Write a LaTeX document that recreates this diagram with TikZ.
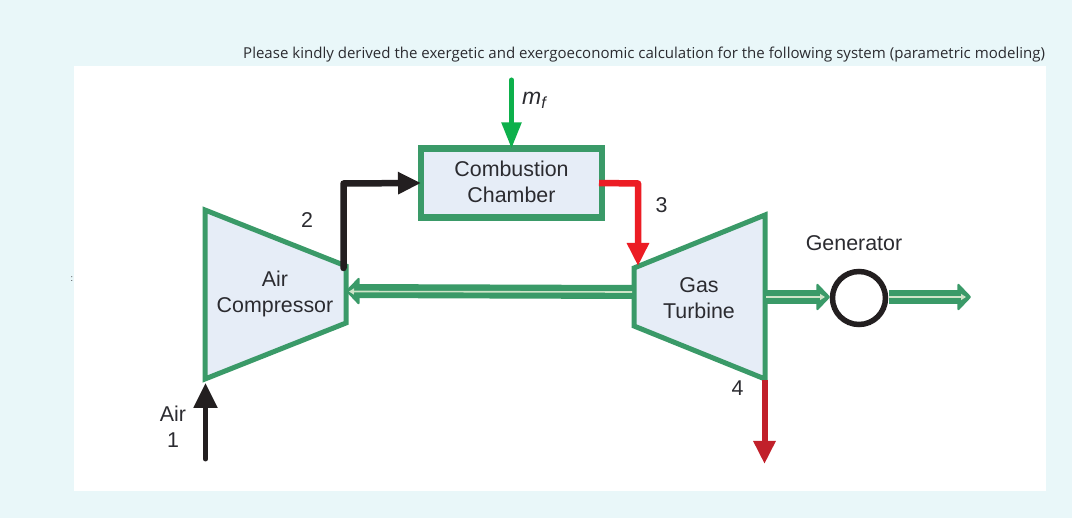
\documentclass[tikz,border=0pt]{standalone}
\usepackage{fontspec}
\setmainfont{Liberation Sans}
\newfontfamily\topfont{Open Sans}
\usetikzlibrary{arrows.meta}
\definecolor{bgc}{HTML}{E9F7F9}
\definecolor{grn}{HTML}{3A9A68}
\definecolor{fillc}{HTML}{E6EDF7}
\definecolor{fuel}{HTML}{0DB04B}
\definecolor{redc}{HTML}{EC1C24}
\definecolor{dred}{HTML}{C1202A}
\definecolor{blk}{HTML}{231F20}
\definecolor{pale}{HTML}{CFE4C8}
\definecolor{txt}{HTML}{2B2B30}
\tikzset{
  lbl/.style={font=\fontsize{21.4}{26}\selectfont, text=txt, align=center, inner sep=0pt},
  unit/.style={draw=grn, line width=5pt, fill=fillc, line join=miter},
  flow/.style={line width=6.5pt, line join=round, -{Triangle[length=23pt,width=21pt]}},
  shaft/.style={line width=14pt, draw=grn, fill=grn, -{Triangle[length=14pt,width=29pt,round,line width=2pt]}},
  core/.style={line width=1.6pt, draw=pale, fill=pale, -{Triangle[length=5pt,width=6pt]}}
}
\begin{document}
\begin{tikzpicture}[x=1pt,y=-1pt]
\useasboundingbox (0,0) rectangle (1072,518);
\fill[bgc] (0,0) rectangle (1072,518);
\fill[white] (74,66) rectangle (1046,491);
\node[font=\topfont\fontsize{15.04}{18}\selectfont, text=txt, anchor=base west, inner sep=0pt] (title) at (243,58.5) {Please kindly derived the exergetic and exergoeconomic calculation for the following system (parametric modeling)};
\node[font=\fontsize{9}{10}\selectfont, text=txt, inner sep=0pt] (colon) at (72,279) {:};
\coordinate (m0) at (511.5,80);
\coordinate (air0) at (205.5,459);
\coordinate (c2) at (343.5,268);
\coordinate (t3) at (638,266);
\coordinate (t4) at (764.5,380);
\coordinate (out4) at (764.5,464);
\draw[unit] (205,210) -- (346,266) -- (346,323) -- (205,379) -- cycle;
\draw[unit] (765,215) -- (634,268) -- (634,326) -- (765,379) -- cycle;
\node[unit, minimum width=181pt, minimum height=69pt, inner sep=0pt, line width=6.5pt, outer sep=0pt] (cc) at (511.5,183) {};
\node[lbl] (cclabel) at (511.5,182) {Combustion\\Chamber};
\node[lbl] at (275,294) {Air\\Compressor};
\node[lbl] at (699,298) {Gas\\Turbine};
\draw[flow, draw=fuel, fuel, line width=5pt, line cap=round, -{Triangle[length=26pt,width=19pt]}] (m0) -- (cc.north);
\draw[flow, draw=blk, blk, line cap=round] (c2) -- (343.5,183.5) -- (cc.west);
\draw[flow, draw=redc, redc] (cc.east) ++(-3,0) -- (638,183.5) -- (t3);
\draw[flow, draw=dred, dred, line width=6pt] (t4) -- (out4);
\draw[flow, draw=blk, blk, line width=5pt, line cap=round, -{Triangle[length=25pt,width=23pt]}] (air0) -- (205.5,383);
\draw[shaft] (632,292) -- (346,291);
\draw[core] (632,292) -- (349,291.5);
\node[draw=blk, line width=5.5pt, circle, minimum size=53pt, inner sep=0pt, fill=white] (gen) at (859,298) {};
\draw[shaft] (766,297) -- (830,297);
\draw[core] (766,297) -- (825,297);
\draw[shaft] (889,297) -- (971,297);
\draw[core] (889,297) -- (966,297);
\node[lbl] at (854,243.5) {Generator};
\node[lbl] at (307,220.5) {2};
\node[lbl] at (661.5,205.5) {3};
\node[lbl] at (737.5,388.5) {4};
\node[lbl] at (173,426.5) {Air\\1};
\node[lbl, anchor=base west, font=\fontsize{23}{26}\selectfont] at (522,104.5) {\itshape m\textsubscript{f}};
\end{tikzpicture}
\end{document}
